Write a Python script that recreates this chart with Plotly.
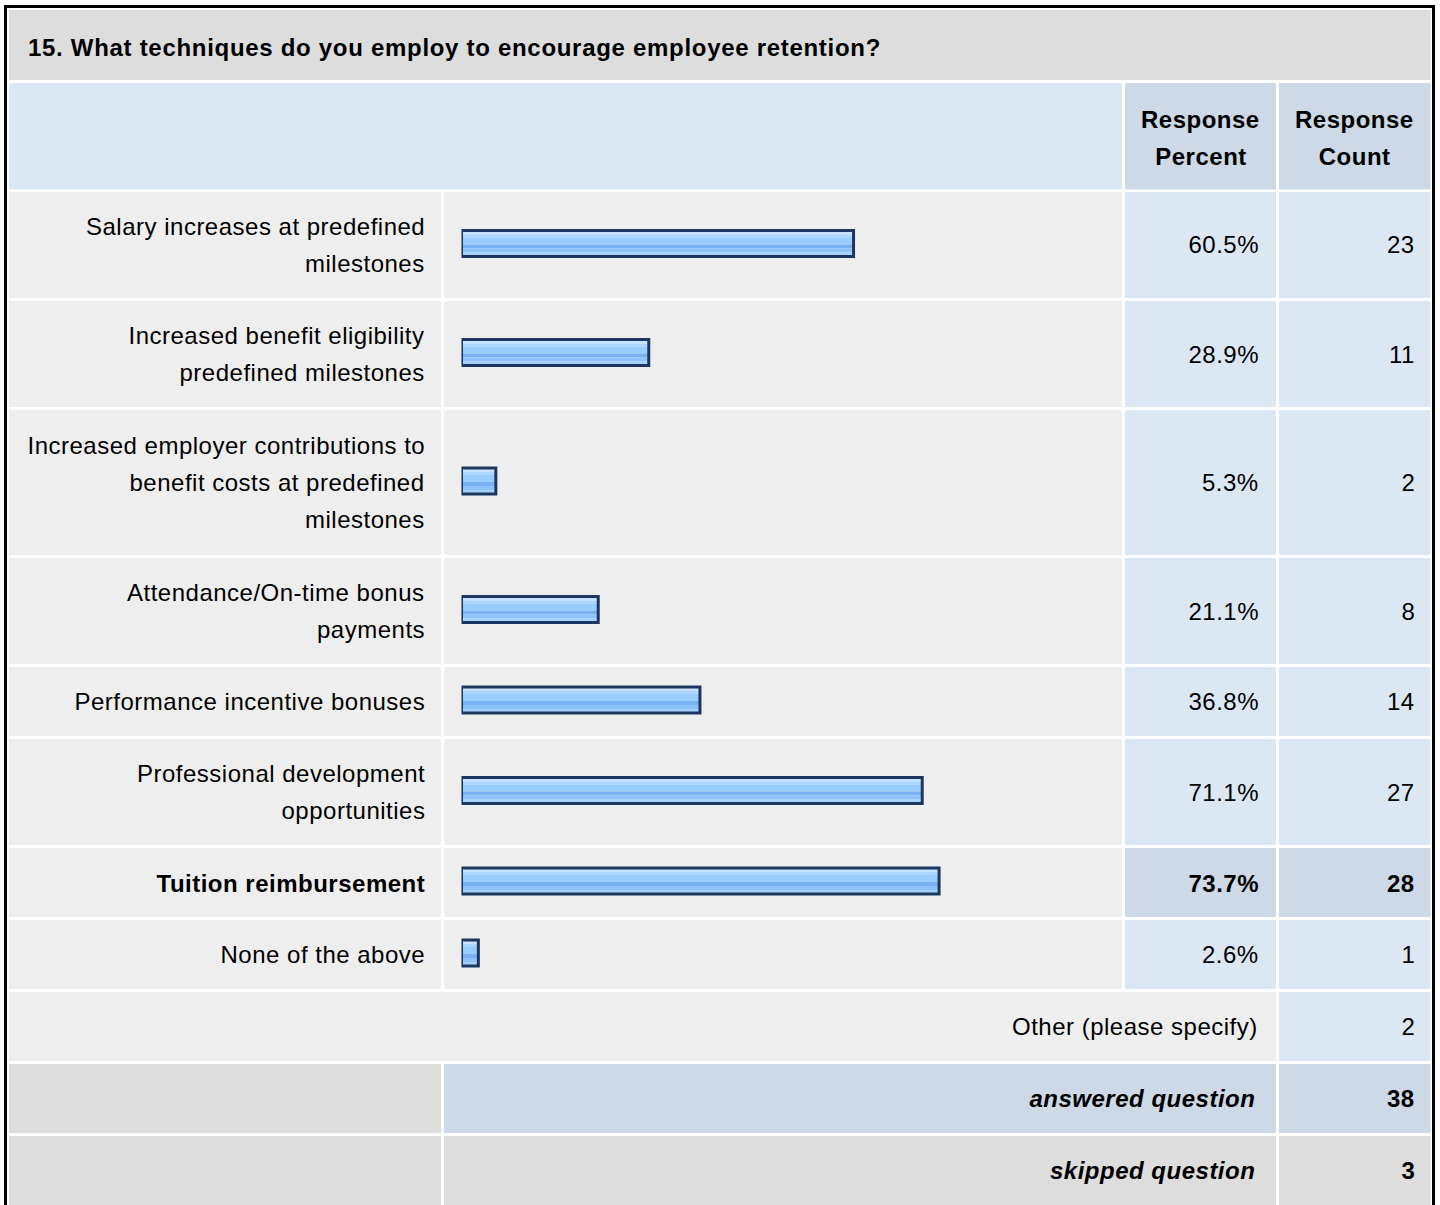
import plotly.graph_objects as go

# ---------------- data ----------------
question = "15. What techniques do you employ to encourage employee retention?"
categories = [
    "Salary increases at predefined<br>milestones",
    "Increased benefit eligibility<br>predefined milestones",
    "Increased employer contributions to<br>benefit costs at predefined<br>milestones",
    "Attendance/On-time bonus<br>payments",
    "Performance incentive bonuses",
    "Professional development<br>opportunities",
    "Tuition reimbursement",
    "None of the above",
]
response_percent = [60.5, 28.9, 5.3, 21.1, 36.8, 71.1, 73.7, 2.6]
response_count = [23, 11, 2, 8, 14, 27, 28, 1]
header_labels = ["Response<br>Percent", "Response<br>Count"]
other_label = "Other (please specify)"
other_count = 2
answered_label = "answered question"
answered_count = 38
skipped_label = "skipped question"
skipped_count = 3

# ---------------- layout helpers ----------------
W, H = 1440, 1205
FONT = "Liberation Sans, Arial, Helvetica, sans-serif"
TXT = "#000000"
FS = 24


def X(px):
    return px / W


def Y(py):
    return 1 - py / H


C_L0, C_L1 = 9, 441
C_B0, C_B1 = 444, 1122
C_P0, C_P1 = 1125, 1276
C_C0, C_C1 = 1279, 1430.5

GRAY = "#dddddd"
LIGHT = "#eeeeee"
BLUE = "#dce7f4"
BLUE2 = "#cdd9e6"

ROW_H = {1: 69, 2: 106, 3: 145}
GAP = 3
LINE = 37

shapes = []
annotations = []


def rect(x0, x1, y0, y1, color):
    shapes.append(dict(type="rect", xref="paper", yref="paper",
                       x0=X(x0), x1=X(x1), y0=Y(y1), y1=Y(y0),
                       fillcolor=color, line=dict(width=0), layer="below"))


def text(t, x, y, anchor="right", bold=False, italic=False, size=FS):
    annotations.append(dict(
        text=t, x=X(x), y=Y(y), xref="paper", yref="paper",
        xanchor=anchor, yanchor="middle", align=anchor,
        showarrow=False, borderpad=0,
        font=dict(family=FONT, size=size, color=TXT,
                  weight="bold" if bold else "normal",
                  style="italic" if italic else "normal")))


def lines(t, x, yc, anchor="right", bold=False):
    parts = t.split("<br>")
    n = len(parts)
    for i, p in enumerate(parts):
        text(p, x, yc + (i - (n - 1) / 2) * LINE, anchor, bold)


# title row
text(question, 27, 47.5, anchor="left", bold=True)
rect(C_L0, C_C1, 10, 80, GRAY)

# header row
HT, HB = 83, 189.5
rect(C_L0, C_B1, HT, HB, BLUE)
rect(C_P0, C_P1, HT, HB, BLUE2)
rect(C_C0, C_C1, HT, HB, BLUE2)
hc = (HT + HB) / 2 + 1.5
lines(header_labels[0], (C_P0 + C_P1) / 2, hc, anchor="center", bold=True)
lines(header_labels[1], (C_C0 + C_C1) / 2, hc, anchor="center", bold=True)

# data rows
top = 192
hi = response_percent.index(max(response_percent))
bar_y = []
for i, cat in enumerate(categories):
    n = len(cat.split("<br>"))
    h = ROW_H[n]
    y0, y1 = top, top + h
    yc = (y0 + y1) / 2
    bold = i == hi
    ty = yc + (1.5 if bold else 0)
    rect(C_L0, C_L1, y0, y1, LIGHT)
    rect(C_B0, C_B1, y0, y1, LIGHT)
    rect(C_P0, C_P1, y0, y1, BLUE2 if bold else BLUE)
    rect(C_C0, C_C1, y0, y1, BLUE2 if bold else BLUE)
    lines(cat, 425.5, ty, bold=bold)
    text(f"{response_percent[i]:.1f}%", 1259.5, ty, bold=bold)
    text(str(response_count[i]), 1415.5, ty, bold=bold)
    bar_y.append(yc - 1.5)
    top = y1 + GAP

# other row
y0, y1 = top, top + ROW_H[1]
rect(C_L0, C_P1, y0, y1, LIGHT)
rect(C_C0, C_C1, y0, y1, BLUE)
text(other_label, 1258.5, (y0 + y1) / 2)
text(str(other_count), 1415.5, (y0 + y1) / 2)
top = y1 + GAP

# answered row
y0, y1 = top, top + ROW_H[1]
rect(C_L0, C_L1, y0, y1, GRAY)
rect(C_B0, C_P1, y0, y1, BLUE2)
rect(C_C0, C_C1, y0, y1, BLUE2)
text(answered_label, 1255.5, (y0 + y1) / 2, bold=True, italic=True)
text(str(answered_count), 1415.5, (y0 + y1) / 2, bold=True)
top = y1 + GAP

# skipped row
y0, y1 = top, top + ROW_H[1]
rect(C_L0, C_L1, y0, y1, GRAY)
rect(C_B0, C_P1, y0, y1, GRAY)
rect(C_C0, C_C1, y0, y1, GRAY)
text(skipped_label, 1255.5, (y0 + y1) / 2, bold=True, italic=True)
text(str(skipped_count), 1415.5, (y0 + y1) / 2, bold=True)

# outer black frame
shapes.append(dict(type="rect", xref="paper", yref="paper",
                   x0=X(5.5), x1=X(1433.5), y0=Y(1300), y1=Y(6.5),
                   fillcolor="rgba(0,0,0,0)", line=dict(width=3, color="#000000"),
                   layer="above"))

# ---------------- bars ----------------
stripes = [(-12, 3, "#c6e2ff"), (-9, 3, "#acd5ff"), (-6, 7, "#99ccff"),
           (1, 4, "#78b2f2"), (5, 4, "#8cc3fc"), (9, 3, "#a3d2ff")]

fig = go.Figure()
for off, wd, col in stripes:
    fig.add_trace(go.Bar(
        x=response_percent, y=bar_y, orientation="h",
        width=wd, offset=off, marker=dict(color=col, line=dict(width=0)),
        hoverinfo="skip", showlegend=False))
fig.add_trace(go.Bar(
    x=response_percent, y=bar_y, orientation="h", width=26,
    marker=dict(color="rgba(0,0,0,0)", line=dict(width=3, color="#1c3660")),
    hoverinfo="skip", showlegend=False))

fig.update_layout(
    width=W, height=H, margin=dict(l=0, r=0, t=0, b=0),
    paper_bgcolor="#ffffff", plot_bgcolor="rgba(0,0,0,0)",
    barmode="overlay", showlegend=False,
    xaxis=dict(domain=[461.5 / W, 1109.5 / W], range=[0, 100], visible=False,
               fixedrange=True),
    yaxis=dict(domain=[0, 1], range=[H, 0], visible=False, fixedrange=True),
    shapes=shapes, annotations=annotations,
)

js = """
var s=document.createElement('style');
s.innerHTML='body{margin:0;padding:0;overflow:hidden} .annotation-text{letter-spacing:0.5px} .annotation[data-index="0"] .annotation-text{letter-spacing:0.7px}';
document.head.appendChild(s);
"""
fig.write_html("out.html", config={"displayModeBar": False}, post_script=js)
